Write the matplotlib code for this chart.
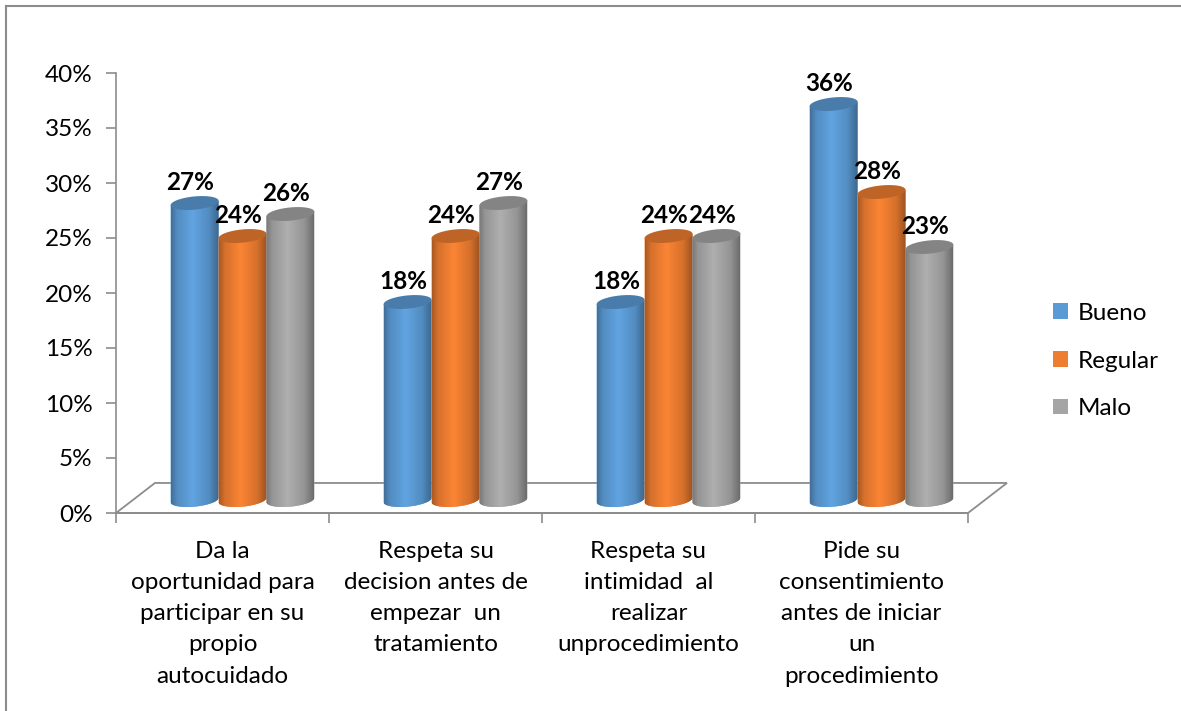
import numpy as np
import matplotlib
matplotlib.use("Agg")
import matplotlib.pyplot as plt
from matplotlib.patches import Polygon, Patch
from matplotlib.lines import Line2D
from matplotlib.colors import to_rgb

plt.rcParams['font.family'] = ['Lato', 'DejaVu Sans']

# data
categories = [
    "Da la\noportunidad para\nparticipar en su\npropio\nautocuidado",
    "Respeta su\ndecision antes de\nempezar  un\ntratamiento",
    "Respeta su\nintimidad  al\nrealizar\nunprocedimiento",
    "Pide su\nconsentimiento\nantes de iniciar\nun\nprocedimiento",
]
series_names = ["Bueno", "Regular", "Malo"]
bueno = [27, 18, 18, 36]
regular = [24, 24, 24, 28]
malo = [26, 27, 24, 23]
series_colors = ["#5B9BD5", "#ED7D31", "#A5A5A5"]
y_ticks = [0, 5, 10, 15, 20, 25, 30, 35, 40]

W, H = 1181, 711
FS = 17.5
AXIS_GRAY = "#8c8c8c"

# fake 3D geometry (category units / percent units)
DEPTH_X, DEPTH_Y = 0.183, 2.73
BAR_DX, BAR_DY = 0.094, 1.18
BAR_W = 0.225
ELL_H = 1.2
TILT = 0.2


def shade(color, factors):
    rgb = np.array(to_rgb(color))
    return np.clip(factors[:, None] * rgb[None, :], 0, 1)


def cylinder(ax, xc, value, color, z):
    base = BAR_DY
    top = BAR_DY + value
    t = np.linspace(np.pi, 2 * np.pi, 60)
    bx = xc + BAR_W / 2 * np.cos(t)
    by = base + ELL_H / 2 * np.sin(t) + TILT * np.cos(t)
    outline = np.vstack([np.column_stack([bx, by]),
                         [[xc + BAR_W / 2, top + TILT], [xc - BAR_W / 2, top - TILT]]])
    body = Polygon(outline, closed=True, facecolor=color, edgecolor="none", zorder=z)
    ax.add_patch(body)

    u = np.linspace(0, 1, 80)
    f = np.interp(u, [0, 0.12, 0.45, 0.8, 1], [0.72, 0.9, 1.06, 0.9, 0.66])
    grad = shade(color, f)[None, :, :]
    im = ax.imshow(grad, extent=[xc - BAR_W / 2, xc + BAR_W / 2, base - ELL_H, top + ELL_H],
                   aspect="auto", interpolation="bilinear", zorder=z)
    im.set_clip_path(body)

    tt = np.linspace(0, 2 * np.pi, 100)
    ex = xc + BAR_W / 2 * np.cos(tt)
    ey = top + ELL_H / 2 * np.sin(tt) + TILT * np.cos(tt)
    ax.fill(ex, ey, color=shade(color, np.array([0.8]))[0], lw=0, zorder=z + 0.1)


fig = plt.figure(figsize=(W / 100, H / 100), dpi=100)
ax = fig.add_axes([116 / W, 1 - 513 / H, 852 / W, 440 / H])

# floor
ax.add_patch(Polygon([(0, 0), (4, 0), (4 + DEPTH_X, DEPTH_Y), (DEPTH_X, DEPTH_Y)],
                     closed=True, fill=False, edgecolor=AXIS_GRAY, lw=1.3,
                     clip_on=False, zorder=1))

values = [bueno, regular, malo]
z = 2
for i in range(len(categories)):
    for j, vals in enumerate(values):
        xc = i + 0.5 + BAR_DX + (j - 1) * BAR_W
        cylinder(ax, xc, vals[i], series_colors[j], z)
        ax.text(xc - 0.02, BAR_DY + vals[i] + 1.9, f"{vals[i]}%", ha="center", va="center",
                fontsize=FS, fontweight="bold", zorder=50)
        z += 1

ax.set_xlim(0, 4)
ax.set_ylim(0, 40)

ax.set_yticks(y_ticks)
ax.set_yticklabels([f"{t}%" for t in y_ticks])
ax.tick_params(axis="y", length=7, width=1.2, color=AXIS_GRAY, pad=10, labelsize=FS)

ax.set_xticks(np.arange(len(categories)) + 0.5)
ax.set_xticklabels(categories, linespacing=1.6)
ax.set_xticks(np.arange(len(categories) + 1), minor=True)
ax.tick_params(axis="x", which="major", length=0, pad=20, labelsize=FS)
ax.tick_params(axis="x", which="minor", length=7, width=1.2, color=AXIS_GRAY)

for side in ["top", "right"]:
    ax.spines[side].set_visible(False)
for side in ["left", "bottom"]:
    ax.spines[side].set_color(AXIS_GRAY)
    ax.spines[side].set_linewidth(1.2)
ax.set_facecolor("none")

handles = [Patch(facecolor=c, label=s) for s, c in zip(series_names, series_colors)]
fig.legend(handles=handles, loc="center left", bbox_to_anchor=(1053 / W, 1 - 361 / H),
           frameon=False, fontsize=FS, handlelength=0.6, handleheight=0.6,
           handletextpad=0.4, labelspacing=1.1, borderpad=0, borderaxespad=0)

# chart frame (left and top edges visible)
fig.add_artist(Line2D([6 / W, 6 / W], [0, 1 - 6 / H], transform=fig.transFigure,
                      color=AXIS_GRAY, lw=1.5))
fig.add_artist(Line2D([6 / W, 1], [1 - 6 / H, 1 - 6 / H], transform=fig.transFigure,
                      color=AXIS_GRAY, lw=1.5))

fig.savefig("out.png", dpi=100)
